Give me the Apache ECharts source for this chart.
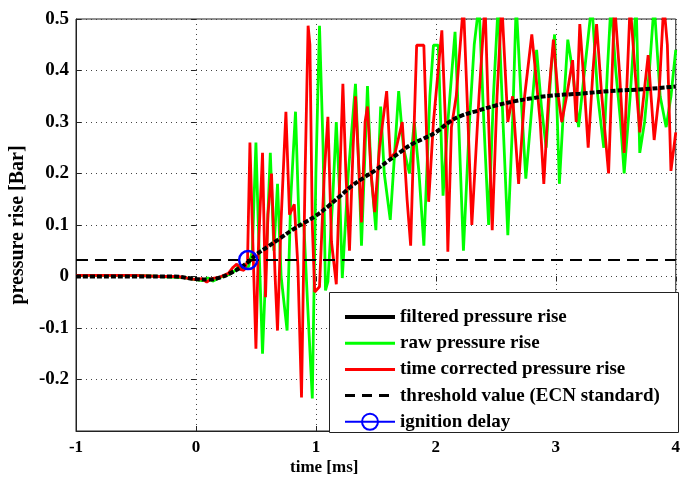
<!DOCTYPE html>
<html>
<head>
    <meta charset="utf-8" />
    <title>pressure rise</title>
    <script src="https://cdn.jsdelivr.net/npm/echarts@6/dist/echarts.min.js"></script>
    <style>
        html, body { margin: 0; padding: 0; background: #fff; }
        #chart { width: 683px; height: 480px; }
    </style>
</head>
<body>
    <div id="chart"></div>

    <script>
        /*
        * 数据 (time [ms], pressure rise [Bar])
        * */
        var seriesNames = ['filtered pressure rise', 'raw pressure rise', 'time corrected pressure rise',
            'threshold value (ECN standard)', 'ignition delay'];

        var filteredPressure = [
            [-1, 0], [-0.5, 0], [-0.2, 0], [0, -0.005], [0.1, -0.006], [0.2, -0.002], [0.3, 0.008],
            [0.4, 0.022], [0.45, 0.031], [0.5, 0.042], [0.6, 0.058], [0.7, 0.074], [0.8, 0.09],
            [0.9, 0.104], [1.0, 0.118], [1.1, 0.136], [1.2, 0.156], [1.3, 0.176], [1.4, 0.192],
            [1.5, 0.207], [1.6, 0.224], [1.7, 0.241], [1.8, 0.257], [1.9, 0.268], [2.0, 0.28],
            [2.1, 0.298], [2.2, 0.311], [2.35, 0.322], [2.5, 0.332], [2.65, 0.34], [2.8, 0.346],
            [2.95, 0.351], [3.2, 0.355], [3.45, 0.36], [3.75, 0.364], [4.0, 0.369]
        ];

        var rawPressure = [
            [-1, 0.002], [-0.5, 0.002], [-0.3, 0.0], [-0.1, -0.002], [0.0, -0.006], [0.05, -0.008],
            [0.1, -0.003], [0.14, -0.009], [0.2, -0.002], [0.28, 0.004], [0.33, 0.012], [0.36, 0.022],
            [0.4, 0.015], [0.44, 0.02], [0.47, 0.05], [0.5, 0.26], [0.52, 0.1], [0.555, -0.15],
            [0.58, 0.0], [0.62, 0.24], [0.65, 0.05], [0.68, 0.18], [0.71, 0.0], [0.76, -0.105],
            [0.79, 0.15], [0.83, 0.32], [0.86, 0.1], [0.9, 0.1], [0.93, -0.05], [0.97, -0.237],
            [1.0, 0.2], [1.03, 0.487], [1.06, 0.25], [1.08, -0.027], [1.1, -0.01], [1.14, 0.15],
            [1.17, 0.3], [1.2, 0.15], [1.22, -0.003], [1.27, 0.2], [1.33, 0.374], [1.36, 0.2],
            [1.38, 0.06], [1.43, 0.37], [1.46, 0.2], [1.5, 0.09], [1.54, 0.33], [1.57, 0.2],
            [1.62, 0.11], [1.69, 0.36], [1.73, 0.25], [1.78, 0.2], [1.82, 0.3], [1.86, 0.2],
            [1.9, 0.06], [1.95, 0.35], [1.98, 0.449], [2.02, 0.449], [2.06, 0.157], [2.1, 0.3],
            [2.16, 0.475], [2.19, 0.3], [2.23, 0.05], [2.28, 0.3], [2.32, 0.45], [2.36, 0.53],
            [2.4, 0.3], [2.44, 0.1], [2.48, 0.35], [2.52, 0.53], [2.56, 0.3], [2.6, 0.08],
            [2.64, 0.3], [2.67, 0.53], [2.71, 0.35], [2.75, 0.19], [2.79, 0.3], [2.84, 0.44],
            [2.88, 0.33], [2.92, 0.25], [2.96, 0.4], [2.99, 0.47], [3.03, 0.18], [3.07, 0.35],
            [3.1, 0.46], [3.14, 0.4], [3.19, 0.29], [3.24, 0.4], [3.3, 0.53], [3.35, 0.35],
            [3.4, 0.25], [3.43, 0.4], [3.46, 0.53], [3.5, 0.4], [3.54, 0.3], [3.57, 0.2],
            [3.62, 0.35], [3.67, 0.53], [3.7, 0.24], [3.74, 0.3], [3.78, 0.4], [3.82, 0.53],
            [3.87, 0.35], [3.92, 0.29], [3.96, 0.35], [4.0, 0.44]
        ];

        var correctedPressure = [
            [-1, 0.002], [-0.5, 0.002], [-0.3, 0.0], [-0.15, 0.0], [-0.05, -0.004], [0.0, -0.006],
            [0.05, -0.004], [0.09, -0.011], [0.13, -0.004], [0.2, -0.001], [0.27, 0.006], [0.31, 0.018],
            [0.34, 0.024], [0.37, 0.014], [0.4, 0.012], [0.43, 0.03], [0.45, 0.26], [0.47, 0.1],
            [0.5, -0.14], [0.52, 0.05], [0.555, 0.24], [0.58, -0.04], [0.6, 0.12], [0.63, 0.2],
            [0.66, 0.0], [0.68, -0.105], [0.71, 0.11], [0.75, 0.32], [0.78, 0.12], [0.82, 0.14],
            [0.85, 0.02], [0.88, -0.235], [0.91, 0.2], [0.935, 0.487], [0.95, 0.45], [0.97, 0.1],
            [0.99, -0.03], [1.03, -0.02], [1.07, 0.2], [1.1, 0.31], [1.13, 0.067], [1.17, -0.015],
            [1.2, 0.2], [1.225, 0.374], [1.25, 0.2], [1.28, 0.05], [1.31, 0.25], [1.33, 0.35],
            [1.36, 0.2], [1.38, 0.105], [1.41, 0.3], [1.43, 0.33], [1.46, 0.2], [1.49, 0.125],
            [1.53, 0.25], [1.59, 0.36], [1.62, 0.23], [1.66, 0.24], [1.72, 0.3], [1.76, 0.15],
            [1.79, 0.06], [1.82, 0.3], [1.84, 0.449], [1.9, 0.449], [1.94, 0.145], [1.98, 0.3],
            [2.05, 0.478], [2.08, 0.3], [2.1, 0.048], [2.13, 0.29], [2.17, 0.35], [2.23, 0.53],
            [2.26, 0.35], [2.3, 0.1], [2.36, 0.35], [2.41, 0.53], [2.44, 0.3], [2.47, 0.09],
            [2.51, 0.35], [2.55, 0.53], [2.6, 0.3], [2.64, 0.35], [2.69, 0.18], [2.74, 0.35],
            [2.8, 0.47], [2.83, 0.4], [2.87, 0.3], [2.9, 0.18], [2.94, 0.35], [2.98, 0.46],
            [3.02, 0.35], [3.05, 0.3], [3.09, 0.35], [3.14, 0.42], [3.17, 0.3], [3.2, 0.49],
            [3.24, 0.36], [3.27, 0.25], [3.31, 0.4], [3.34, 0.49], [3.38, 0.36], [3.44, 0.2],
            [3.49, 0.53], [3.53, 0.4], [3.57, 0.24], [3.62, 0.53], [3.66, 0.4], [3.7, 0.28],
            [3.77, 0.43], [3.82, 0.265], [3.86, 0.35], [3.9, 0.53], [3.93, 0.45], [3.96, 0.205],
            [4.0, 0.28]
        ];

        var thresholdLine = [[-1, 0.032], [4, 0.032]];
        var ignitionPoint = [[0.435, 0.032]];

        var xTicks = { min: -1, max: 4, step: 1 };
        var yTicks = { min: -0.3, max: 0.5, step: 0.1 };

        /*
        * 画图
        * */
        var serif = "'Liberation Serif', 'Times New Roman', serif";
        var xLabelStyle = { color: '#000', fontFamily: serif, fontWeight: 'bold', fontSize: 17 };
        var yLabelStyle = { color: '#000', fontFamily: serif, fontWeight: 'bold', fontSize: 19 };
        var dotted = { color: '#444', width: 1, type: [1, 4] };
        var tickStyle = { inside: true, length: 5, lineStyle: { color: '#222' } };
        var noMarker = { opacity: 0 };

        var chart = echarts.init(document.getElementById('chart'), null, { renderer: 'canvas' });

        var option = {
            backgroundColor: '#fff',
            animation: false,
            grid: { left: 76, right: 5, top: 19, bottom: 49, show: true, borderColor: '#222', borderWidth: 1 },
            xAxis: [{
                type: 'value', min: xTicks.min, max: xTicks.max, interval: xTicks.step,
                axisLine: { show: true, onZero: false, lineStyle: { color: '#222' } },
                axisTick: tickStyle,
                axisLabel: Object.assign({ margin: 8 }, xLabelStyle),
                splitLine: { show: true, lineStyle: dotted }
            }, {
                type: 'value', position: 'top', min: xTicks.min, max: xTicks.max, interval: xTicks.step,
                axisLine: { show: false }, axisTick: tickStyle,
                axisLabel: { show: false }, splitLine: { show: false }
            }],
            yAxis: [{
                type: 'value', min: yTicks.min, max: yTicks.max, interval: yTicks.step,
                name: 'pressure rise [Bar]', nameLocation: 'middle', nameGap: 44,
                nameTextStyle: { color: '#000', fontFamily: serif, fontWeight: 'bold', fontSize: 20 },
                axisLine: { show: true, onZero: false, lineStyle: { color: '#222' } },
                axisTick: tickStyle,
                axisLabel: Object.assign({ margin: 7, showMinLabel: false }, yLabelStyle),
                splitLine: { show: true, lineStyle: dotted }
            }, {
                type: 'value', position: 'right', min: yTicks.min, max: yTicks.max, interval: yTicks.step,
                axisLine: { show: false }, axisTick: tickStyle,
                axisLabel: { show: false }, splitLine: { show: false }
            }],
            legend: {
                orient: 'vertical', left: 338, top: 302, itemGap: 6.2,
                itemWidth: 50, itemHeight: 20,
                data: [
                    { name: seriesNames[0], itemStyle: noMarker, lineStyle: { type: 'solid', width: 4 } },
                    { name: seriesNames[1], itemStyle: noMarker, lineStyle: { width: 3 } },
                    { name: seriesNames[2], itemStyle: noMarker, lineStyle: { width: 3 } },
                    { name: seriesNames[3], itemStyle: noMarker, lineStyle: { width: 3, type: [10, 7] } },
                    { name: seriesNames[4] }
                ],
                textStyle: { color: '#000', fontFamily: serif, fontWeight: 'bold', fontSize: 19, lineHeight: 20 }
            },
            graphic: [{
                type: 'rect', z: 3, left: 329, top: 292,
                shape: { width: 349, height: 140 },
                style: { fill: '#fff', stroke: '#222', lineWidth: 1 }
            }, {
                type: 'text', left: 290, top: 459,
                style: { text: 'time [ms]', fill: '#000', font: 'bold 17px ' + serif }
            }],
            series: [{
                name: seriesNames[1], type: 'line', data: rawPressure, symbol: 'none',
                lineStyle: { color: '#00ff00', width: 2.8 }, itemStyle: { color: '#00ff00' }
            }, {
                name: seriesNames[2], type: 'line', data: correctedPressure, symbol: 'none',
                lineStyle: { color: '#ff0000', width: 2.8 }, itemStyle: { color: '#ff0000' }
            }, {
                name: seriesNames[0], type: 'line', data: filteredPressure, symbol: 'none', smooth: true,
                lineStyle: { color: '#000', width: 4, type: [5, 2] }, itemStyle: { color: '#000' }
            }, {
                name: seriesNames[3], type: 'line', data: thresholdLine, symbol: 'none',
                lineStyle: { color: '#000', width: 2, type: [12, 7] }, itemStyle: { color: '#000' }
            }, {
                name: seriesNames[4], type: 'line', data: ignitionPoint,
                symbol: 'circle', symbolSize: 18,
                lineStyle: { color: '#0000ff', width: 2.5 },
                itemStyle: { color: 'rgba(0,0,0,0)', borderColor: '#0000ff', borderWidth: 2.5 }
            }]
        };
        chart.setOption(option);
    </script>
</body>
</html>
